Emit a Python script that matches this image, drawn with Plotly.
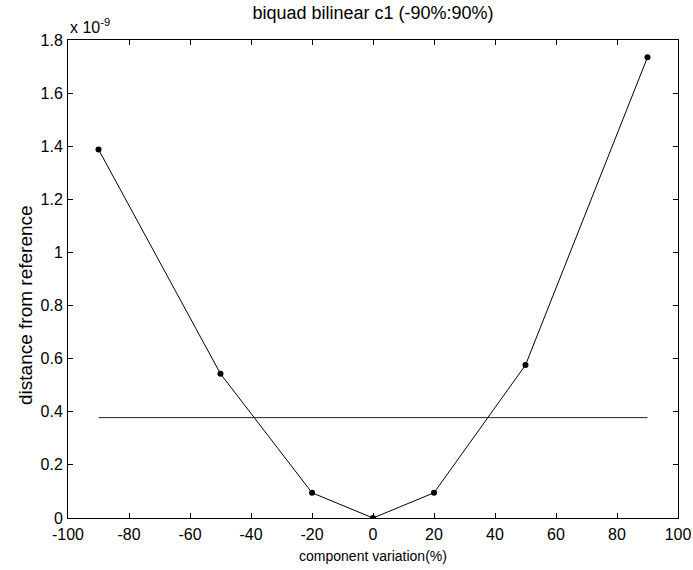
import plotly.graph_objects as go

# data (y in units of 1e-9)
variation = [-90, -50, -20, 0, 20, 50, 90]
distance = [1.388, 0.543, 0.095, 0.0, 0.095, 0.576, 1.735]
threshold_x = [-90, 90]
threshold_y = [0.378, 0.378]
x_ticks = [-100, -80, -60, -40, -20, 0, 20, 40, 60, 80, 100]
y_ticks = [0, 0.2, 0.4, 0.6, 0.8, 1, 1.2, 1.4, 1.6, 1.8]

FONT = "Liberation Sans, Arial, sans-serif"

fig = go.Figure()
fig.add_trace(go.Scatter(
    x=variation, y=distance, mode="lines+markers",
    line=dict(color="black", width=1),
    marker=dict(color="black", size=6),
    showlegend=False,
))
fig.add_trace(go.Scatter(
    x=threshold_x, y=threshold_y, mode="lines",
    line=dict(color="#222222", width=1),
    showlegend=False,
))

axis_common = dict(
    showline=True, linecolor="black", linewidth=1, mirror="allticks",
    ticks="inside", ticklen=5, tickcolor="black", showgrid=False,
    zeroline=False, automargin=False, ticklabeloverflow="allow",
    tickfont=dict(family=FONT, size=16, color="black"),
)

fig.update_layout(
    width=693, height=570,
    margin=dict(l=68, r=15, t=40, b=52, autoexpand=False),
    paper_bgcolor="white", plot_bgcolor="white",
    title=dict(text="biquad bilinear c1 (-90%:90%)", x=0.5382, xanchor="center",
               y=0.978, yanchor="middle",
               font=dict(family=FONT, size=18, color="black")),
    xaxis=dict(range=[-100, 100], tickvals=x_ticks,
               ticktext=[str(v) for v in x_ticks],
               ticklabelstandoff=2,
               title=dict(text="component variation(%)", standoff=8,
                          font=dict(family=FONT, size=14, color="black")),
               **axis_common),
    yaxis=dict(range=[0, 1.8], tickvals=y_ticks,
               ticktext=[("%g" % v) for v in y_ticks],
               ticklabelstandoff=1,
               **axis_common),
    annotations=[
        dict(
            text="x 10<sup>-9</sup>", xref="paper", yref="paper",
            x=0, y=1, xanchor="left", yanchor="bottom", showarrow=False,
            font=dict(family=FONT, size=16, color="black"), yshift=2,
        ),
        dict(
            text="distance from reference", xref="paper", yref="paper",
            x=-0.0705, y=0.4456, xanchor="center", yanchor="middle",
            textangle=-90, showarrow=False,
            font=dict(family=FONT, size=19, color="black"),
        ),
    ],
)

fig.write_html("out.html")
